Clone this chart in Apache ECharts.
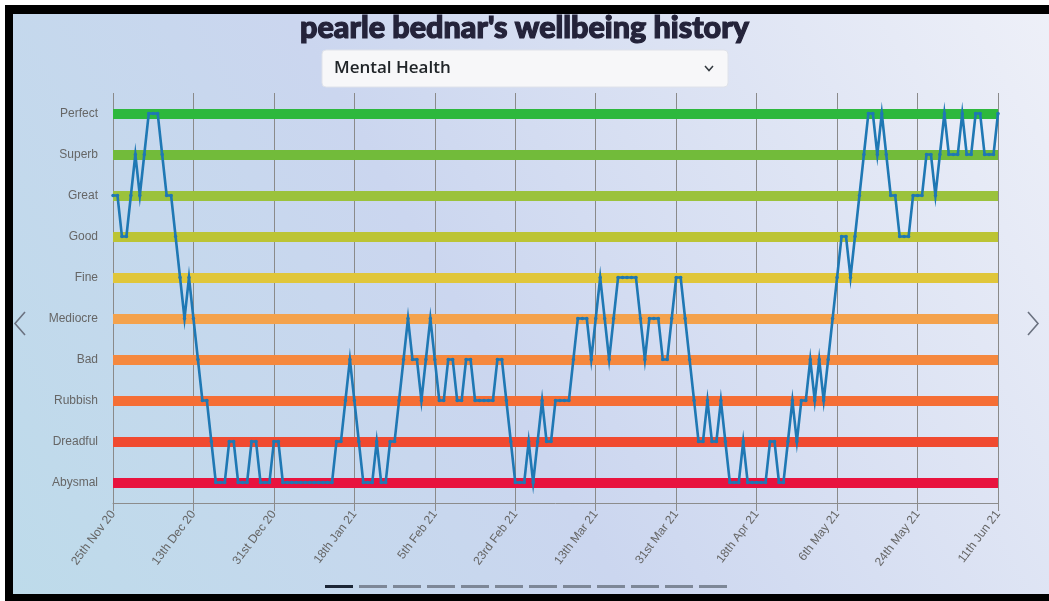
<!DOCTYPE html>
<html>
<head>
<meta charset="utf-8">
<script src="https://cdn.jsdelivr.net/npm/echarts@6/dist/echarts.min.js"></script>
<style>
html,body{margin:0;padding:0;width:1049px;height:601px;overflow:hidden;background:#fff;}
#chart{width:1049px;height:601px;}
</style>
</head>
<body>
<div id="chart"></div>
<script>
// ---- data ----
const chartTitle = "pearle bednar's wellbeing history";
const selectorLabel = "Mental Health";
const levels = ['Abysmal','Dreadful','Rubbish','Bad','Mediocre','Fine','Good','Great','Superb','Perfect'];
const levelColors = ['#e8133e','#f04a30','#f56e35','#f5883e','#f4a24c','#e0c63a','#bcc434','#9bc23c','#72bb3a','#2db83d'];
const tickLabels = ['25th Nov 20','13th Dec 20','31st Dec 20','18th Jan 21','5th Feb 21','23rd Feb 21','13th Mar 21','31st Mar 21','18th Apr 21','6th May 21','24th May 21','11th Jun 21'];
const startDate = '2020-11-25';
const dayCount = 199;
// mood level index (0 = Abysmal ... 9 = Perfect), one per day
const mentalHealth = [
  7,7,6,6,7,8,7,8,9,9,
  9,8,7,7,6,5,4,5,4,3,
  2,2,1,0,0,0,1,1,0,0,
  0,1,1,0,0,0,1,1,0,0,
  0,0,0,0,0,0,0,0,0,0,
  1,1,2,3,2,1,0,0,0,1,
  0,0,1,1,2,3,4,3,3,2,
  3,4,3,2,2,3,3,2,2,3,
  3,2,2,2,2,2,3,3,2,1,
  0,0,0,1,0,1,2,1,1,2,
  2,2,2,3,4,4,4,3,4,5,
  4,3,4,5,5,5,5,5,4,3,
  4,4,4,3,3,4,5,5,4,3,
  2,1,1,2,1,1,2,1,0,0,
  0,1,0,0,0,0,0,1,1,0,
  0,1,2,1,2,2,3,2,3,2,
  3,4,5,6,6,5,6,7,8,9,
  9,8,9,8,7,7,6,6,6,7,
  7,7,8,8,7,8,9,8,8,8,
  9,8,8,9,9,8,8,8,9
];

// ---- build ----
const days = [];
{
  const d0 = new Date(startDate + 'T00:00:00Z');
  for (let i = 0; i < dayCount; i++) {
    const d = new Date(d0.getTime() + i * 86400000);
    days.push(d.toISOString().slice(0, 10));
  }
}
const TICK_STEP = 18;

const chart = echarts.init(document.getElementById('chart'), null, {renderer: 'canvas'});

const graphics = [
  {type: 'rect', z: -100, silent: true, shape: {x: 0, y: 0, width: 1049, height: 601},
   style: {fill: new echarts.graphic.LinearGradient(0, 1, 1, 0, [
     {offset: 0, color: '#bddbea'},
     {offset: 0.45, color: '#cbd6ef'},
     {offset: 1, color: '#eef0f8'}
   ])}},
  // frame
  {type: 'rect', z: 100, silent: true, shape: {x: 0, y: 0, width: 1049, height: 5}, style: {fill: '#ffffff'}},
  {type: 'rect', z: 100, silent: true, shape: {x: 0, y: 0, width: 5, height: 601}, style: {fill: '#ffffff'}},
  {type: 'rect', z: 100, silent: true, shape: {x: 5, y: 5, width: 1044, height: 9}, style: {fill: '#000000'}},
  {type: 'rect', z: 100, silent: true, shape: {x: 5, y: 5, width: 8, height: 596}, style: {fill: '#000000'}},
  {type: 'rect', z: 100, silent: true, shape: {x: 5, y: 594, width: 1044, height: 7}, style: {fill: '#000000'}},
  // dropdown
  {type: 'rect', z: 10, silent: true, shape: {x: 322, y: 50, width: 406, height: 37, r: 4},
   style: {fill: '#f7f7f9', stroke: '#dfe2ea', lineWidth: 1}},
  {type: 'text', z: 11, silent: true, x: 334, y: 68,
   style: {text: selectorLabel, fill: '#212529', font: '600 17px "Open Sans", sans-serif', verticalAlign: 'middle', align: 'left'}},
  {type: 'polyline', z: 11, silent: true, shape: {points: [[705, 66], [709, 70.5], [713, 66]]},
   style: {stroke: '#343a40', lineWidth: 1.5, fill: null}},
  // carousel arrows
  {type: 'polyline', z: 11, silent: true, shape: {points: [[25, 312], [15, 323.5], [25, 335]]},
   style: {stroke: '#6b7280', lineWidth: 1.6, fill: null}},
  {type: 'polyline', z: 11, silent: true, shape: {points: [[1028, 312], [1038, 323.5], [1028, 335]]},
   style: {stroke: '#6b7280', lineWidth: 1.6, fill: null}}
];
for (let k = 0; k < 12; k++) {
  graphics.push({type: 'rect', z: 11, silent: true, shape: {x: 325 + k * 34, y: 585, width: 28, height: 3},
    style: {fill: k === 0 ? '#1c2636' : '#7d8797'}});
}

const option = {
  animation: false,
  title: {
    text: chartTitle, left: 'center', top: 8,
    textStyle: {fontFamily: 'Lato', fontWeight: 900, fontSize: 30.5, color: '#24233a',
      textBorderColor: '#24233a', textBorderWidth: 1.2}
  },
  graphic: graphics,
  grid: {left: 113, right: 51, top: 93, bottom: 98, containLabel: false},
  xAxis: {
    type: 'category', data: days, boundaryGap: false,
    axisLine: {show: true, lineStyle: {color: '#8c8c8c', width: 1}},
    axisTick: {show: true, interval: TICK_STEP - 1, length: 8, lineStyle: {color: '#8c8c8c'}},
    splitLine: {show: true, interval: TICK_STEP - 1, lineStyle: {color: '#8a8a8a', width: 1}},
    axisLabel: {
      interval: TICK_STEP - 1, rotate: 53, margin: 9, color: '#666', fontSize: 12,
      fontFamily: 'Liberation Sans, Arial, sans-serif',
      formatter: (v, i) => tickLabels[Math.round(i / TICK_STEP)] || ''
    }
  },
  yAxis: {
    type: 'category', data: levels, boundaryGap: true,
    axisLine: {show: false}, axisTick: {show: false}, splitLine: {show: false},
    axisLabel: {color: '#666', fontSize: 12, margin: 15, fontFamily: 'Liberation Sans, Arial, sans-serif'}
  },
  series: [
    {
      name: 'bands', type: 'line', data: [], z: 1, silent: true,
      markLine: {
        silent: true, symbol: 'none', animation: false, label: {show: false},
        data: levels.map((l, i) => ({yAxis: i, lineStyle: {color: levelColors[i], width: 10, type: 'solid', opacity: 1}}))
      }
    },
    {
      name: selectorLabel, type: 'line', z: 5,
      data: mentalHealth,
      showSymbol: true, showAllSymbol: true, symbol: 'circle', symbolSize: 3.5,
      itemStyle: {color: '#1f78b4'},
      lineStyle: {color: '#1f78b4', width: 2.6, join: 'miter', miterLimit: 10},
      emphasis: {disabled: true}
    }
  ]
};
chart.setOption(option);
</script>
</body>
</html>
